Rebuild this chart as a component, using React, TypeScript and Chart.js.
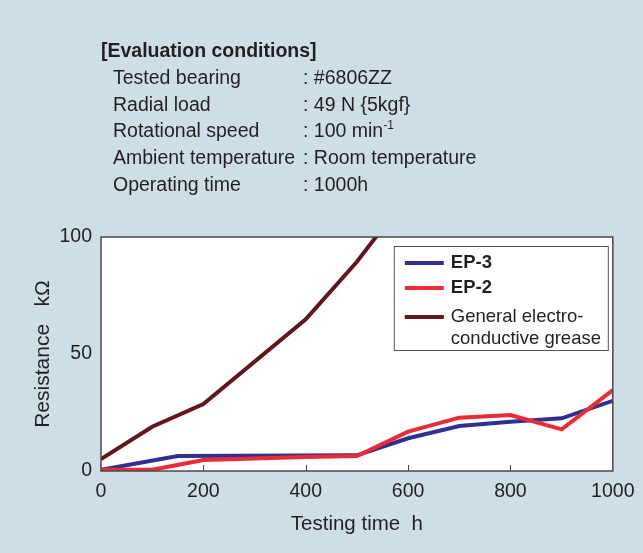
import React, { useEffect, useRef } from 'react';
import { Chart, registerables } from 'chart.js';

Chart.register(...registerables);

const seriesLabels = ['EP-3', 'EP-2', 'General electro-|conductive grease'];
const seriesColors = ['#2e3192', '#ee2a34', '#63151a'];
const ep3Hours = [0, 150, 500, 600, 700, 800, 900, 1000];
const ep3Values = [0.5, 6.4, 6.7, 14, 19.2, 21, 22.5, 30];
const ep2Hours = [0, 100, 200, 400, 500, 600, 700, 800, 900, 1000];
const ep2Values = [0.5, 0.5, 4.7, 6, 6.4, 16.8, 22.8, 23.9, 17.8, 34.6];
const generalHours = [0, 100, 200, 400, 500, 600];
const generalValues = [5.1, 18.9, 28.6, 64.8, 89.4, 118];
const xTickValues = [0, 200, 400, 600, 800, 1000];
const yTickValues = [0, 50, 100];
const xTitle = 'Testing time  h';
const yTitle = 'Resistance   kΩ';
const conditionsTitle = '[Evaluation conditions]';
const conditionLabels = ['Tested bearing', 'Radial load', 'Rotational speed', 'Ambient temperature', 'Operating time'];
const conditionValues = ['#6806ZZ', '49 N {5kgf}', '100 min^-1', 'Room temperature', '1000h'];

const FONT = "'Liberation Sans', Arial, Helvetica, sans-serif";
const TEXT = '#231f20';

const zip = (xs: number[], ys: number[]) => xs.map((x, i) => ({ x, y: ys[i] }));

const plotPlugin = {
  id: 'plotDecor',
  beforeDatasetsDraw(chart: any) {
    const { ctx, chartArea: a } = chart;
    ctx.save();
    ctx.fillStyle = '#ffffff';
    ctx.fillRect(a.left, a.top, a.right - a.left, a.bottom - a.top);
    ctx.restore();
  },
  afterDatasetsDraw(chart: any) {
    const { ctx, chartArea: a } = chart;
    const xs = chart.scales.x;
    ctx.save();
    ctx.strokeStyle = '#444';
    ctx.lineWidth = 1;
    xTickValues.forEach((v) => {
      if (v === xs.min || v === xs.max) return;
      const px = Math.round(xs.getPixelForValue(v)) + 0.5;
      ctx.beginPath();
      ctx.moveTo(px, a.bottom);
      ctx.lineTo(px, a.bottom - 6);
      ctx.stroke();
    });
    ctx.strokeStyle = '#4a4a4a';
    ctx.lineWidth = 1.5;
    ctx.strokeRect(a.left, a.top, a.right - a.left, a.bottom - a.top);

    const bw = 214, bh = 104;
    const bx = a.right - 219, by = a.top + 9;
    ctx.fillStyle = '#ffffff';
    ctx.fillRect(bx, by, bw, bh);
    ctx.strokeStyle = '#555';
    ctx.lineWidth = 1;
    ctx.strokeRect(bx + 0.5, by + 0.5, bw, bh);
    const rowY = [17, 42, 71];
    const lineH = 21.7;
    chart.data.datasets.forEach((ds: any) => {
      const idx = seriesLabels.indexOf(ds.label);
      const y = by + rowY[idx];
      ctx.strokeStyle = ds.borderColor;
      ctx.lineWidth = 4;
      ctx.beginPath();
      ctx.moveTo(bx + 11, y);
      ctx.lineTo(bx + 50, y);
      ctx.stroke();
      ctx.fillStyle = TEXT;
      ctx.textBaseline = 'middle';
      ctx.textAlign = 'left';
      ctx.font = (idx < 2 ? 'bold ' : '') + '18.5px ' + FONT;
      ds.label.split('|').forEach((t: string, j: number) => {
        ctx.fillText(t, bx + 57, y + j * lineH);
      });
    });
    ctx.restore();
  },
};

export default function App() {
  const ref = useRef<HTMLCanvasElement>(null);
  useEffect(() => {
    if (!ref.current) return;
    const chart = new Chart(ref.current, {
      type: 'line',
      data: {
        datasets: [
          { label: seriesLabels[0], data: zip(ep3Hours, ep3Values), borderColor: seriesColors[0], order: 1 },
          { label: seriesLabels[1], data: zip(ep2Hours, ep2Values), borderColor: seriesColors[1], order: 0 },
          { label: seriesLabels[2], data: zip(generalHours, generalValues), borderColor: seriesColors[2], order: 2 },
        ].map((d) => ({ ...d, borderWidth: 4, pointRadius: 0, tension: 0, fill: false, borderJoinStyle: 'miter' as const })),
      },
      options: {
        responsive: false,
        animation: false,
        devicePixelRatio: 1,
        layout: { padding: { top: 237, right: 30, left: 0, bottom: 0 } },
        plugins: { legend: { display: false }, tooltip: { enabled: false } },
        scales: {
          x: {
            type: 'linear',
            min: 0,
            max: 1000,
            afterBuildTicks: (s: any) => { s.ticks = xTickValues.map((v) => ({ value: v })); },
            afterFit: (s: any) => { s.height = 82; },
            ticks: { font: { family: FONT, size: 19.5 }, color: TEXT, padding: 8.5, maxRotation: 0, callback: (v: any) => String(v) },
            grid: { display: false, drawTicks: false },
            border: { display: false },
            title: { display: true, text: xTitle, color: TEXT, font: { family: FONT, size: 20.5 }, padding: { top: 0, bottom: 16.5 } },
          },
          y: {
            type: 'linear',
            min: 0,
            max: 100,
            afterBuildTicks: (s: any) => { s.ticks = yTickValues.map((v) => ({ value: v })); },
            afterFit: (s: any) => { s.width = 101; },
            ticks: { font: { family: FONT, size: 19.5 }, color: TEXT, padding: 9, callback: (v: any) => String(v) },
            grid: { display: false, drawTicks: false },
            border: { display: false },
            title: { display: true, text: yTitle, color: TEXT, font: { family: FONT, size: 21 }, padding: { top: 31, bottom: 0 } },
          },
        },
      },
      plugins: [plotPlugin],
    });
    return () => chart.destroy();
  }, []);

  const renderValue = (v: string) => {
    const parts = v.split('^');
    if (parts.length === 1) return v;
    return (
      <>
        {parts[0]}
        <sup style={{ fontSize: 12, lineHeight: 0, verticalAlign: 'baseline', position: 'relative', top: -8 }}>{parts[1]}</sup>
      </>
    );
  };

  return (
    <div style={{ position: 'fixed', left: 0, top: 0, width: 643, height: 553, background: '#cedee7', overflow: 'hidden' }}>
      <canvas ref={ref} width={643} height={553} style={{ position: 'absolute', left: 0, top: 0, width: 643, height: 553 }} />
      <div style={{ position: 'absolute', left: 101, top: 37, fontFamily: FONT, fontSize: 19.5, lineHeight: '26.8px', color: TEXT, whiteSpace: 'nowrap' }}>
        <div style={{ fontWeight: 'bold' }}>{conditionsTitle}</div>
        {conditionLabels.map((l, i) => (
          <div key={l} style={{ display: 'flex', paddingLeft: 12 }}>
            <span style={{ width: 190, display: 'inline-block' }}>{l}</span>
            <span>{': '}{renderValue(conditionValues[i])}</span>
          </div>
        ))}
      </div>
    </div>
  );
}
